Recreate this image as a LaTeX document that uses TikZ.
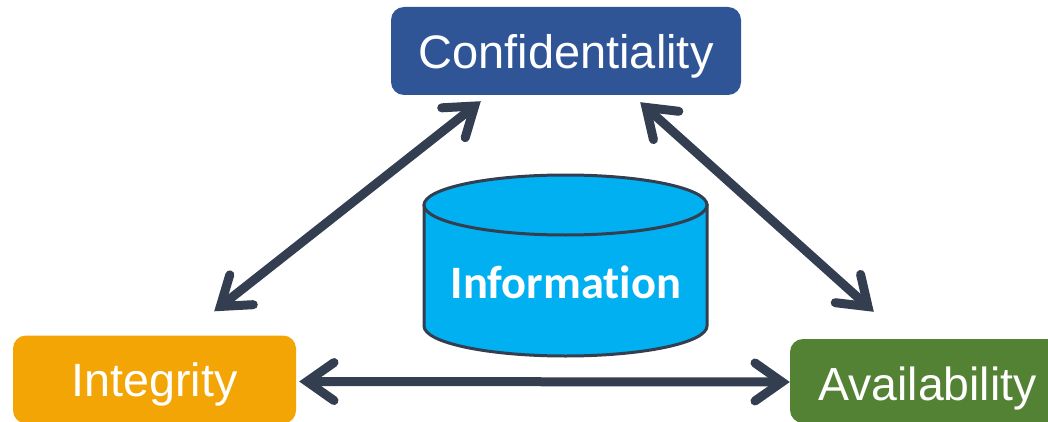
\documentclass[tikz,border=0pt]{standalone}
\usepackage{fontspec}
\setmainfont{Liberation Sans}
\newfontfamily\calibrilike[Ligatures=NoCommon]{Carlito}
\usetikzlibrary{arrows.meta,calc}
\definecolor{cblue}{HTML}{2F5597}
\definecolor{corange}{HTML}{F2A505}
\definecolor{cgreen}{HTML}{548235}
\definecolor{ccyan}{HTML}{00B0F0}
\definecolor{cdark}{HTML}{333F50}
\tikzset{
  box/.style={rounded corners=13pt,draw=none,text=white,inner sep=0pt},
  label/.style={text=white,inner sep=0pt},
  dbl/.style={draw=cdark,line width=9pt,
    {Straight Barb[length=27pt,width=38pt,line cap=round,line join=miter]}-{Straight Barb[length=27pt,width=38pt,line cap=round,line join=miter]}},
  cyl/.style={draw=cdark,line width=3pt,fill=ccyan},
  infotext/.style={text=white,font=\calibrilike\bfseries\fontsize{46.5}{47}\selectfont,inner sep=0pt}
}
\begin{document}
\begin{tikzpicture}[x=1pt,y=-1pt]
\useasboundingbox (0,0) rectangle (1048,422);
\clip (0,0) rectangle (1048,422);
% boxes
\node[box,fill=cblue,minimum width=350pt,minimum height=88pt] (conf) at (566,51) {};
\node[box,fill=corange,minimum width=283pt,minimum height=88pt] (integ) at (154.5,379.5) {};
\node[box,fill=cgreen,minimum width=274pt,minimum height=84pt] (avail) at (927,381) {};
\node[label,font=\fontsize{47}{47}\selectfont] (tconf) at (566,56) {Confidentiality};
\node[label,font=\fontsize{46.7}{47}\selectfont] (tinteg) at (154.5,384) {Integrity};
\node[label,font=\fontsize{46.4}{47}\selectfont] (tavail) at (927.5,388) {Availability};
% cylinder
\path[cyl] (424,205) -- (424,326) arc[start angle=180,end angle=360,x radius=141.5pt,y radius=30pt] -- (707,205) -- cycle;
\path[cyl] (565.5,205) ellipse[x radius=141.5pt,y radius=30pt];
\node[infotext] (info) at (566,282) {Information};
% connector ends
\coordinate (ci) at ($(conf.south west)+(90,6)$);
\coordinate (ic) at ($(integ.north east)+(-82,-24)$);
\coordinate (ca) at ($(conf.south east)+(-101,7)$);
\coordinate (ac) at ($(avail.north west)+(84,-27)$);
\coordinate (ia) at ($(integ.east)+(3,2)$);
\coordinate (ai) at ($(avail.west)+(0,1)$);
\draw[dbl] (ic) -- (ci);
\draw[dbl] (ca) -- (ac);
\draw[dbl] (ia) -- (ai);
\end{tikzpicture}
\end{document}
